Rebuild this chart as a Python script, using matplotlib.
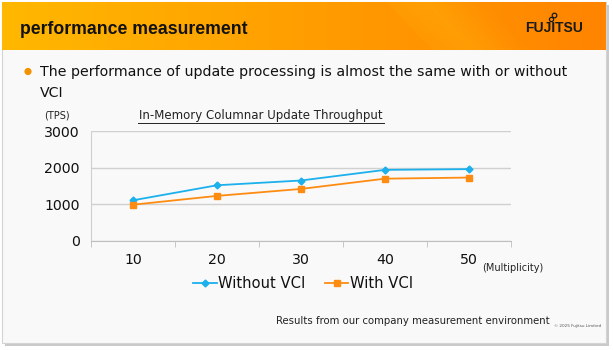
import numpy as np
import matplotlib
matplotlib.use('Agg')
import matplotlib.pyplot as plt
from matplotlib.patches import Rectangle, Circle

categories = ['10', '20', '30', '40', '50']
without_vci = [1110, 1520, 1650, 1940, 1960]
with_vci = [990, 1230, 1420, 1700, 1730]
yticks = [0, 1000, 2000, 3000]

W, H = 613, 350
fig = plt.figure(figsize=(W / 100, H / 100), dpi=100)
fig.patch.set_facecolor('white')

bg = fig.add_axes([0, 0, 1, 1])
bg.set_xlim(0, W)
bg.set_ylim(H, 0)
bg.axis('off')

# slide with shadow
bg.add_patch(Rectangle((5, 5), 604, 341, facecolor='#c9c9c9', edgecolor='none', zorder=0))
bg.add_patch(Rectangle((2, 2), 604, 341, facecolor='#f9f9f9', edgecolor='#d4d4d4', lw=0.8, zorder=1))

# header gradient
nx, ny = 604, 48
xs = np.linspace(0, 1, nx)
ys = np.linspace(0, 1, ny)
X, Y = np.meshgrid(xs, ys)
c0 = np.array([255, 184, 0]) / 255
c1 = np.array([255, 132, 0]) / 255
t = X[..., None]
img = c0 * (1 - t) + c1 * t
diag = (X * 604 - (385 + Y * 45))
band = np.clip(1 - np.abs(diag - 40) / 60, 0, 1) * (diag > 0)
img = img + band[..., None] * np.array([0, 0.05, 0.02])
img = np.clip(img, 0, 1)
bg.imshow(img, extent=(2, 606, 50, 2), aspect='auto', zorder=2, interpolation='bilinear')

bg.text(20, 29.5, 'performance measurement', fontsize=12.7, fontweight='bold',
        color='#111111', va='center', ha='left', zorder=3, family='Liberation Sans')
bg.text(583, 28.5, 'FUJITSU', fontsize=10, fontweight='bold', color='#1a1a1a',
        va='center', ha='right', zorder=3, family='Liberation Sans')
bg.add_patch(Circle((551.5, 19.5), 2.1, facecolor='none', edgecolor='#1a1a1a', lw=0.9, zorder=3))
bg.add_patch(Circle((554.5, 15.5), 2.3, facecolor='none', edgecolor='#1a1a1a', lw=0.9, zorder=3))

# bullet
bg.add_patch(Circle((28, 71.5), 3.6, facecolor='#f39200', edgecolor='none', zorder=3))
bg.text(40, 72, 'The performance of update processing is almost the same with or without',
        fontsize=10.2, color='#111111', va='center', ha='left', zorder=3)
bg.text(40, 93, 'VCI', fontsize=10.2, color='#111111', va='center', ha='left', zorder=3)

# chart axes
L, R, T, B = 91, 511, 131, 241
ax = fig.add_axes([L / W, 1 - B / H, (R - L) / W, (B - T) / H])
ax.set_facecolor('none')
x = np.arange(len(categories))
ax.plot(x, without_vci, color='#1cb0ec', lw=1.3, marker='D', ms=3.5, mec='#1cb0ec',
        mfc='#1cb0ec', label='Without VCI', zorder=3)
ax.plot(x, with_vci, color='#ff8c12', lw=1.3, marker='s', ms=4.5, mec='#ff8c12',
        mfc='#ff8c12', label='With VCI', zorder=3)
ax.set_xlim(-0.5, len(categories) - 0.5)
ax.set_ylim(0, 3000)
ax.set_yticks(yticks)
ax.set_yticklabels([str(v) for v in yticks], fontsize=10.2, color='#111111')
ax.set_xticks(x)
ax.set_xticklabels(categories, fontsize=10.2, color='#111111')
ax.tick_params(axis='x', which='major', length=0, pad=9)
ax.set_xticks(np.arange(-0.5, len(categories), 1), minor=True)
ax.tick_params(axis='x', which='minor', length=4, color='#bfbfbf', direction='out')
ax.tick_params(axis='y', length=0, pad=8)
ax.grid(axis='y', color='#d0d0d0', lw=1)
for s in ['top', 'right']:
    ax.spines[s].set_visible(False)
ax.spines['left'].set_color('#d0d0d0')
ax.spines['bottom'].set_color('#bfbfbf')

leg = ax.legend(loc='center', bbox_to_anchor=(0.505, -0.39), ncol=2, frameon=False,
                fontsize=10.6, handlelength=1.6, handletextpad=0.1, columnspacing=1.3,
                borderpad=0, borderaxespad=0)
for txt in leg.get_texts():
    txt.set_color('#111111')

bg.text(44, 116, '(TPS)', fontsize=7, color='#222222', va='center', ha='left', zorder=3)
bg.text(261, 116, 'In-Memory Columnar Update Throughput', fontsize=8.5, color='#222222',
        va='center', ha='center', zorder=3)
bg.plot([138, 384], [122.5, 122.5], color='#222222', lw=0.7, zorder=3)
bg.text(482, 268, '(Multiplicity)', fontsize=7, color='#222222', va='center', ha='left', zorder=3)
bg.text(276, 321, 'Results from our company measurement environment', fontsize=7.3,
        color='#222222', va='center', ha='left', zorder=3)
bg.text(554, 326, '\u00a9 2025 Fujitsu Limited', fontsize=3, color='#555555',
        va='center', ha='left', zorder=3)

fig.savefig('out.png', dpi=100)
